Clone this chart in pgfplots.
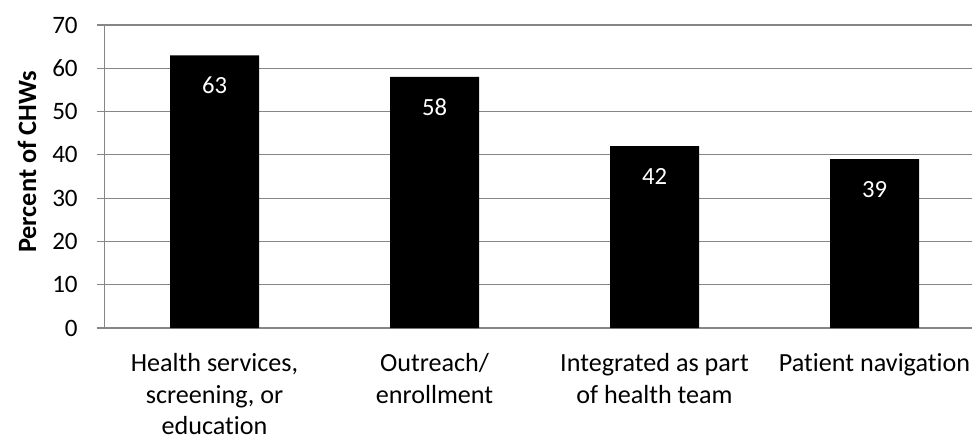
\documentclass[border=0pt]{standalone}
\usepackage{pgfplots}
\pgfplotsset{compat=1.18}
\usepackage{fontspec}
\setmainfont[Ligatures=NoCommon]{Carlito}
\definecolor{gridgray}{RGB}{134,134,134}
\definecolor{txt}{RGB}{0,0,0}
\begin{document}
\begin{tikzpicture}
\begin{axis}[
  name=ax,
  scale only axis,
  width=650.6pt, height=227.25pt,
  xmin=-0.5, xmax=3.443,
  ymin=0, ymax=70,
  ytick={0,10,...,70},
  xtick={0,1,2,3},
  xticklabels={{Health services,\\screening, or\\education},{Outreach/\\enrollment},{Integrated as part\\of health team},{Patient navigation}},
  extra x ticks={0.5,1.5,2.5},
  extra x tick labels={},
  extra x tick style={major tick length=6pt, tick style={gridgray, line width=0.9pt}, grid=none},
  axis x line*=bottom,
  axis y line*=left,
  x axis line style={gridgray, line width=0.9pt, -},
  y axis line style={gridgray, line width=0.9pt, -},
  ymajorgrids,
  grid style={gridgray, line width=0.9pt},
  major x tick style={draw=none},
  major y tick style={gridgray, line width=0.9pt},
  ytick align=outside,
  major tick length=6pt,
  tick label style={text=txt},
  /pgf/number format/assume math mode=true,
  yticklabel style={font=\fontsize{18.8}{22}\selectfont, inner sep=0pt, anchor=east, xshift=-13.9pt},
  xticklabel style={font=\fontsize{19.6}{23.6}\selectfont, align=center, inner sep=0pt, anchor=north, yshift=-13pt},
  ylabel={\bfseries Percent of CHWs},
  ylabel style={font=\fontsize{19.8}{22}\selectfont, at={(rel axis cs:0,0.548)}, anchor=center, yshift=58.1pt},
  ybar, bar width=66.75pt,
  nodes near coords,
  nodes near coords style={font=\fontsize{18.5}{22}\selectfont, text=white, anchor=center, yshift=-22.5pt},
  clip=false,
]
\addplot[fill=black, draw=none] coordinates {(0,63) (1,58) (2,42) (3,39)};
\coordinate (sw) at (rel axis cs:0,0);
\coordinate (ne) at (rel axis cs:1,1);
\end{axis}
\pgfresetboundingbox
\path ([xshift=-78.375pt,yshift=-81pt]sw) rectangle ([yshift=18.75pt]ne);
\end{tikzpicture}
\end{document}
